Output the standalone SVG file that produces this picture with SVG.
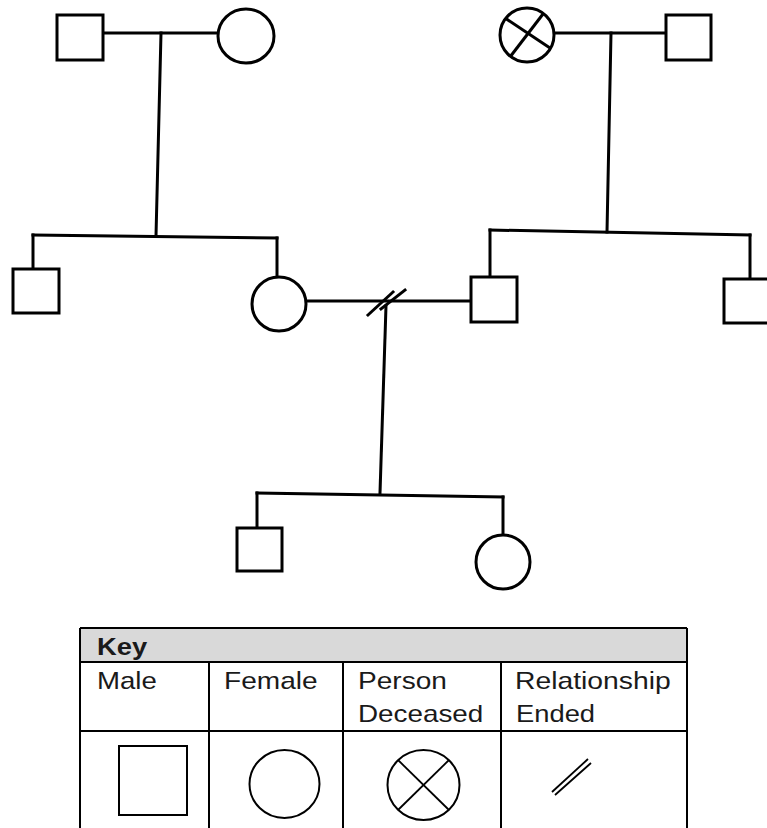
<svg xmlns="http://www.w3.org/2000/svg" width="767" height="828" viewBox="0 0 767 828">
<style>
.p{fill:#fff;stroke:#000;stroke-width:3}
.c line{stroke:#000;stroke-width:3;stroke-linecap:square}
.t{stroke:#000;stroke-width:2;fill:none}
.k{fill:#fff;stroke:#000;stroke-width:2}
.kl{stroke:#000;stroke-width:1.8}
.lbl{font-family:"Liberation Sans",Arial,sans-serif;font-size:24px;fill:#1a1a1a}
</style>
<rect width="767" height="828" fill="#fff"/>
<g id="connectors" class="c">
<line x1="103" y1="33" x2="219" y2="33"/>
<line x1="161" y1="33" x2="156" y2="236"/>
<line x1="33" y1="235" x2="277" y2="238"/>
<line x1="33" y1="235" x2="33" y2="269"/>
<line x1="277" y1="238" x2="277" y2="277"/>
<line x1="554" y1="33" x2="666" y2="33"/>
<line x1="611" y1="33" x2="607" y2="232"/>
<line x1="490" y1="230" x2="750" y2="235"/>
<line x1="490" y1="230" x2="490" y2="277"/>
<line x1="750" y1="235" x2="750" y2="279"/>
<line x1="306" y1="301" x2="471" y2="301"/>
<line x1="368" y1="315" x2="393" y2="292"/>
<line x1="381" y1="309" x2="405" y2="290"/>
<line x1="386" y1="306" x2="380" y2="493"/>
<line x1="257" y1="493" x2="503" y2="497"/>
<line x1="257" y1="493" x2="257" y2="528"/>
<line x1="503" y1="497" x2="503" y2="535"/>
</g>
<g id="grandfather-paternal"><rect class="p" x="57" y="15" width="46" height="45"/></g>
<g id="grandmother-paternal"><ellipse class="p" cx="246" cy="36" rx="28" ry="27"/></g>
<g id="grandmother-maternal-deceased"><circle class="p" cx="527" cy="35" r="27"/><line x1="505" y1="18" x2="550" y2="48" stroke="#000" stroke-width="3"/><line x1="543" y1="14" x2="510" y2="57" stroke="#000" stroke-width="3"/></g>
<g id="grandfather-maternal"><rect class="p" x="666" y="15" width="45" height="45"/></g>
<g id="uncle-left"><rect class="p" x="13" y="269" width="46" height="44"/></g>
<g id="mother"><circle class="p" cx="279" cy="304" r="27"/></g>
<g id="father"><rect class="p" x="471" y="277" width="46" height="45"/></g>
<g id="uncle-right"><rect class="p" x="724" y="279" width="46" height="44"/></g>
<g id="child-son"><rect class="p" x="237" y="528" width="45" height="43"/></g>
<g id="child-daughter"><circle class="p" cx="503" cy="562" r="27"/></g>
<g id="key">
<rect x="80" y="628" width="607" height="34" fill="#d9d9d9"/>
<line class="t" x1="80" y1="628" x2="687" y2="628"/>
<line class="t" x1="80" y1="662" x2="687" y2="662"/>
<line class="t" x1="80" y1="731" x2="687" y2="731"/>
<line class="t" x1="80" y1="628" x2="80" y2="828"/>
<line class="t" x1="687" y1="628" x2="687" y2="828"/>
<line class="t" x1="209" y1="662" x2="209" y2="828"/>
<line class="t" x1="343" y1="662" x2="343" y2="828"/>
<line class="t" x1="501" y1="662" x2="501" y2="828"/>
<text class="lbl" transform="translate(97,655) scale(1.14,1)" font-weight="bold">Key</text>
<text class="lbl" transform="translate(97,689) scale(1.15,1)">Male</text>
<text class="lbl" transform="translate(224,689) scale(1.17,1)">Female</text>
<text class="lbl" transform="translate(358,689) scale(1.17,1)">Person</text>
<text class="lbl" transform="translate(358,722) scale(1.16,1)">Deceased</text>
<text class="lbl" transform="translate(515,689) scale(1.18,1)">Relationship</text>
<text class="lbl" transform="translate(516,722) scale(1.14,1)">Ended</text>
<rect class="k" x="119" y="746" width="68" height="69"/>
<ellipse class="k" cx="284.5" cy="784" rx="35" ry="34"/>
<ellipse class="k" cx="423.5" cy="785" rx="36" ry="35"/>
<line class="kl" x1="398" y1="760" x2="449" y2="810"/>
<line class="kl" x1="449" y1="760" x2="398" y2="810"/>
<line class="kl" x1="552" y1="792" x2="588" y2="759"/>
<line class="kl" x1="555" y1="795" x2="591" y2="763"/>
</g>
</svg>
